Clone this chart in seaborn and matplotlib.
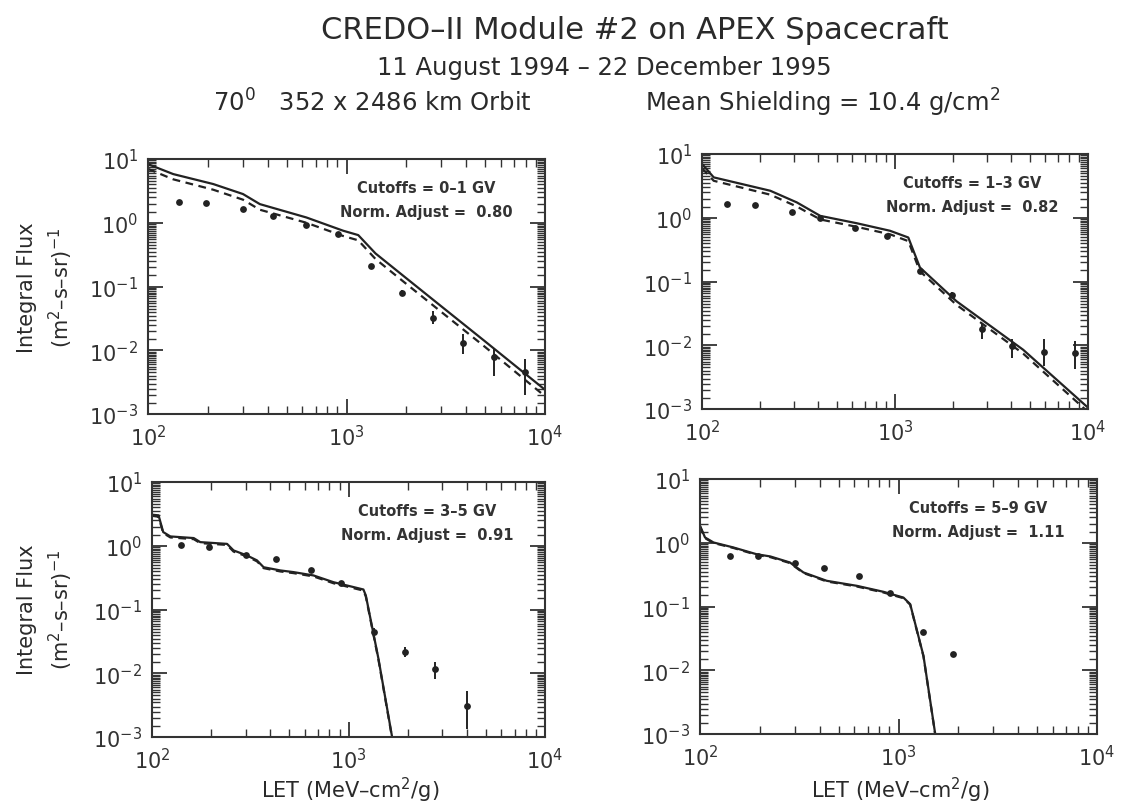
import numpy as np
import pandas as pd
import matplotlib
matplotlib.use("Agg")
import matplotlib.pyplot as plt
from matplotlib.ticker import LogLocator, NullFormatter
import seaborn as sns

# ---- measured integral flux (points) per cutoff band ----
let_01 = [143, 197, 301, 427, 628, 907, 1336, 1893, 2714, 3848, 5530, 7928]
flux_01 = [2.09, 2.05, 1.64, 1.29, 0.92, 0.66, 0.206, 0.0785, 0.0326, 0.0132, 0.0077, 0.0046]
lo_01 = [2.0, 1.96, 1.57, 1.24, 0.88, 0.63, 0.19, 0.070, 0.0256, 0.0086, 0.00395, 0.0020]
hi_01 = [2.18, 2.14, 1.71, 1.34, 0.96, 0.69, 0.22, 0.088, 0.0415, 0.0178, 0.0104, 0.0072]

let_13 = [135, 189, 292, 410, 621, 906, 1346, 1963, 2840, 4060, 5900, 8530]
flux_13 = [1.64, 1.58, 1.24, 0.976, 0.68, 0.51, 0.147, 0.0618, 0.0178, 0.0098, 0.0077, 0.0075]
lo_13 = [1.57, 1.51, 1.19, 0.94, 0.65, 0.49, 0.138, 0.056, 0.0124, 0.0064, 0.0047, 0.0042]
hi_13 = [1.71, 1.65, 1.29, 1.01, 0.71, 0.53, 0.157, 0.068, 0.0227, 0.0124, 0.0124, 0.0117]

let_35 = [140, 195, 301, 427, 643, 914, 1355, 1940, 2760, 4000]
flux_35 = [1.01, 0.94, 0.72, 0.61, 0.41, 0.26, 0.045, 0.0214, 0.0117, 0.0031]
lo_35 = [0.97, 0.90, 0.69, 0.58, 0.39, 0.25, 0.040, 0.0178, 0.0081, 0.00134]
hi_35 = [1.05, 0.98, 0.75, 0.64, 0.43, 0.27, 0.051, 0.0256, 0.0149, 0.0053]

let_59 = [141, 197, 301, 422, 636, 901, 1327, 1892]
flux_59 = [0.625, 0.61, 0.48, 0.395, 0.296, 0.162, 0.040, 0.0178]
lo_59 = [0.60, 0.585, 0.46, 0.38, 0.284, 0.155, 0.037, 0.0165]
hi_59 = [0.65, 0.635, 0.50, 0.41, 0.308, 0.169, 0.043, 0.0192]

# ---- model curves: solid and dashed ----
mx_01 = [100, 134, 213, 301, 366, 628, 962, 1146, 1400, 2000, 3000, 5000, 10000]
ms_01 = [8.3, 5.8, 4.05, 2.82, 1.96, 1.21, 0.75, 0.64, 0.33, 0.135, 0.049, 0.0137, 0.0024]
md_01 = [7.0, 4.8, 3.3, 2.3, 1.6, 1.0, 0.62, 0.53, 0.27, 0.11, 0.040, 0.0112, 0.0019]

mx_13 = [100, 115, 226, 310, 410, 634, 942, 1172, 1346, 2083, 4613, 10000]
ms_13 = [7.0, 4.3, 2.65, 1.74, 1.07, 0.82, 0.625, 0.49, 0.166, 0.049, 0.0085, 0.00105]
md_13 = [6.0, 3.8, 2.3, 1.5, 0.94, 0.72, 0.55, 0.43, 0.145, 0.043, 0.0074, 0.0009]

mx_35 = [100, 108, 114, 124, 163, 176, 241, 260, 304, 342, 370, 450, 525, 664, 839, 1191, 1225, 1421, 1680]
ms_35 = [3.07, 3.0, 1.64, 1.40, 1.32, 1.14, 1.07, 0.845, 0.705, 0.59, 0.46, 0.41, 0.386, 0.342, 0.268, 0.206, 0.166, 0.0168, 0.00087]
md_35 = [2.95, 2.85, 1.58, 1.35, 1.27, 1.10, 1.03, 0.81, 0.68, 0.57, 0.445, 0.395, 0.372, 0.33, 0.258, 0.198, 0.16, 0.0162, 0.00084]

mx_59 = [100, 106, 117, 147, 193, 226, 284, 332, 435, 617, 840, 1059, 1145, 1336, 1531]
ms_59 = [1.85, 1.21, 1.01, 0.845, 0.66, 0.61, 0.49, 0.342, 0.253, 0.211, 0.17, 0.138, 0.109, 0.0168, 0.001]
md_59 = [1.80, 1.18, 0.99, 0.83, 0.645, 0.595, 0.48, 0.335, 0.247, 0.206, 0.166, 0.135, 0.107, 0.0165, 0.00098]

cutoff_labels = ["0\u20131 GV", "1\u20133 GV", "3\u20135 GV", "5\u20139 GV"]
norm_adjust = ["0.80", "0.82", "0.91", "1.11"]

panels = [
    (let_01, flux_01, lo_01, hi_01, mx_01, ms_01, md_01),
    (let_13, flux_13, lo_13, hi_13, mx_13, ms_13, md_13),
    (let_35, flux_35, lo_35, hi_35, mx_35, ms_35, md_35),
    (let_59, flux_59, lo_59, hi_59, mx_59, ms_59, md_59),
]

sns.set_theme(style="ticks")
plt.rcParams["font.family"] = ["DejaVu Sans"]
plt.rcParams["axes.edgecolor"] = "#333333"
plt.rcParams["axes.linewidth"] = 1.5

fig = plt.figure(figsize=(11.34, 8.12), dpi=100)
fig.patch.set_facecolor("white")

W, H = 1134.0, 812.0
# panel boxes in pixels: left, right, top, bottom
boxes = [(148, 545, 160, 415), (702, 1088, 155, 410),
         (152, 545, 483, 738), (700, 1097, 480, 735)]

ink = "#222222"
for i, (box, data) in enumerate(zip(boxes, panels)):
    l, r, t, b = box
    ax = fig.add_axes([l / W, 1 - b / H, (r - l) / W, (b - t) / H])
    px, py, plo, phi, mx, ms, md = data

    curves = pd.DataFrame({
        "LET": mx + mx,
        "flux": ms + md,
        "model": ["solid"] * len(mx) + ["dashed"] * len(mx),
    })
    sns.lineplot(data=curves, x="LET", y="flux", style="model",
                 dashes={"solid": "", "dashed": (3.5, 2.5)},
                 color=ink, linewidth=1.6, estimator=None, sort=False,
                 legend=False, ax=ax)

    pts = pd.DataFrame({"LET": px, "flux": py})
    ax.vlines(px, plo, phi, color=ink, linewidth=1.4)
    sns.scatterplot(data=pts, x="LET", y="flux", color=ink, s=24,
                    edgecolor=ink, linewidth=0, legend=False, ax=ax, zorder=5)

    ax.set_xscale("log")
    ax.set_yscale("log")
    ax.set_xlim(100, 10000)
    ax.set_ylim(1e-3, 10)
    ax.set_xlabel("")
    ax.set_ylabel("")

    ax.xaxis.set_major_locator(LogLocator(base=10, numticks=10))
    ax.xaxis.set_minor_locator(LogLocator(base=10, subs=np.arange(2, 10), numticks=20))
    ax.yaxis.set_major_locator(LogLocator(base=10, numticks=10))
    ax.yaxis.set_minor_locator(LogLocator(base=10, subs=np.arange(1.5, 10, 0.5), numticks=40))
    ax.xaxis.set_minor_formatter(NullFormatter())
    ax.yaxis.set_minor_formatter(NullFormatter())
    ax.tick_params(which="both", direction="in", top=True, right=True,
                   colors="#333333", labelcolor="#333333")
    ax.tick_params(which="major", length=11, width=1.3, labelsize=15, pad=7)
    ax.tick_params(which="minor", length=6, width=1.0)

    ax.text(0.70, 0.89, "Cutoffs = " + cutoff_labels[i], transform=ax.transAxes,
            ha="center", va="center", fontsize=10.5, fontweight="bold", color="#333333")
    ax.text(0.70, 0.795, "Norm. Adjust =  " + norm_adjust[i], transform=ax.transAxes,
            ha="center", va="center", fontsize=10.5, fontweight="bold", color="#333333")

txt = "#2a2a2a"
fig.text(0.56, 0.963, "CREDO\u2013II Module #2 on APEX Spacecraft",
         ha="center", va="center", fontsize=22, color=txt)
fig.text(0.533, 0.916, "11 August 1994 \u2013 22 December 1995",
         ha="center", va="center", fontsize=17.5, color=txt)
fig.text(0.328, 0.873, "70$^{0}$   352 x 2486 km Orbit",
         ha="center", va="center", fontsize=17.5, color=txt)
fig.text(0.725, 0.873, "Mean Shielding = 10.4 g/cm$^{2}$",
         ha="center", va="center", fontsize=17.5, color=txt)

for yc in (0.646, 0.249):
    fig.text(0.024, yc, "Integral Flux", rotation=90,
             ha="center", va="center", fontsize=15, color=txt)
    fig.text(0.054, yc, "(m$^{2}$\u2013s\u2013sr)$^{-1}$", rotation=90,
             ha="center", va="center", fontsize=15, color=txt)

for xc in (0.309, 0.794):
    fig.text(xc, 0.027, "LET (MeV\u2013cm$^{2}$/g)",
             ha="center", va="center", fontsize=15, color=txt)

fig.savefig("out.png", dpi=100, facecolor="white")
